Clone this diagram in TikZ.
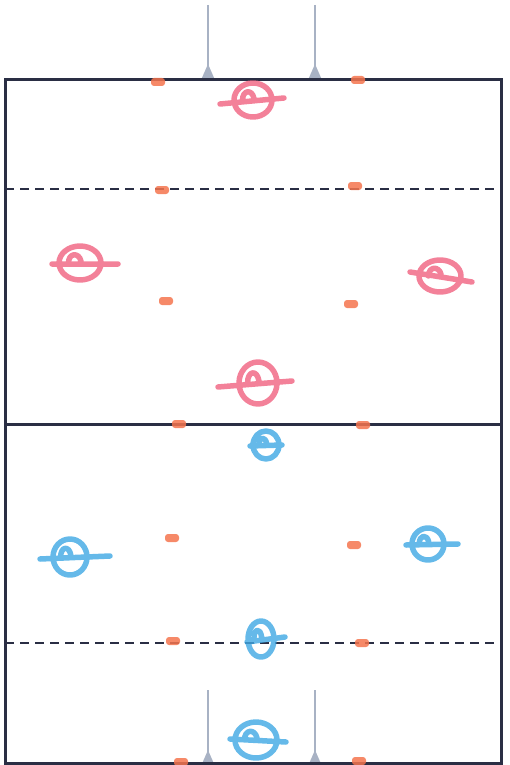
\documentclass[tikz,border=0pt]{standalone}
\definecolor{line}{RGB}{42,46,68}
\definecolor{post}{RGB}{168,178,196}
\definecolor{rose}{RGB}{240,98,128}
\definecolor{sky}{RGB}{62,168,228}
\definecolor{cone}{RGB}{244,116,78}
\usepackage{tikz}
\usetikzlibrary{positioning}
\tikzset{
  field/.style={line, line width=3pt},
  halfway/.style={line, line width=2.3pt, dash pattern=on 9pt off 6pt},
  postline/.style={post, line width=1.2pt},
  marker/.style={line width=5.5pt, line cap=round, line join=round, opacity=0.8},
  conebox/.style={fill=cone, opacity=0.85, rounded corners=3pt, minimum width=14pt, minimum height=8pt, inner sep=0pt},
}
\begin{document}
\begin{tikzpicture}[x=1pt,y=-1pt]
        \useasboundingbox (0,0) rectangle (510,765);
        % goal posts
        \foreach \gx [count=\i] in {208,315} {
          \coordinate (topend\i) at (\gx,5);
          \coordinate (topfoot\i) at (\gx,80);
          \draw[postline] (topend\i) -- (topfoot\i);
          \fill[post] (\gx-7,80) -- (\gx,64) -- (\gx+7,80) -- cycle;
          \coordinate (botend\i) at (\gx,690);
          \coordinate (botfoot\i) at (\gx,765);
          \draw[postline] (botend\i) -- (botfoot\i);
          \fill[post] (\gx-7,766) -- (\gx,750) -- (\gx+7,766) -- cycle;
        }
        % field lines
        \draw[field] (5,80) rectangle (501,763);
        \draw[field] (5,424) -- (501,424);
        \draw[halfway] (5,189) -- (501,189);
        \draw[halfway] (5,643) -- (501,643);
        % cones
        \foreach \x/\y [count=\i] in {158/82,358/80,162/190,355/186,166/301,351/304,
            179/424,363/425,172/538,354/545,173/641,362/643,181/762,359/761}
          \node[conebox] (cone\i) at (\x,\y) {};
        % players: x/y/x radius/y radius/left reach/right reach/tilt
        \foreach \x/\y/\rx/\ry/\l/\r/\t in {253/100/19/17/33/31/2,80/263/21/17/28/38/-1,
            440/276/21/16/30/32/-6,258/383/19/21/40/34/2}
          \draw[marker, rose] (\x,\y) ellipse[x radius=\rx, y radius=\ry]
            (\x-\l,\y+\t+2) -- (\x+\r,\y-\t)
            (\x-\rx*0.55,\y) .. controls (\x-\rx*0.55,\y-\ry*0.6) and (\x-\rx*0.05,\y-\ry*0.65) .. (\x+\rx*0.05,\y-\ry*0.1);
        \foreach \x/\y/\rx/\ry/\l/\r/\t in {266/445/13/14/16/16/0,70/557/17/18/30/40/1,
            428/544/16/16/22/30/0,261/639/13/18/14/24/2,256/740/21/18/26/30/-2}
          \draw[marker, sky] (\x,\y) ellipse[x radius=\rx, y radius=\ry]
            (\x-\l,\y+\t+1) -- (\x+\r,\y-\t)
            (\x-\rx*0.55,\y) .. controls (\x-\rx*0.55,\y-\ry*0.6) and (\x-\rx*0.05,\y-\ry*0.65) .. (\x+\rx*0.05,\y-\ry*0.1);
      \end{tikzpicture}
\end{document}
